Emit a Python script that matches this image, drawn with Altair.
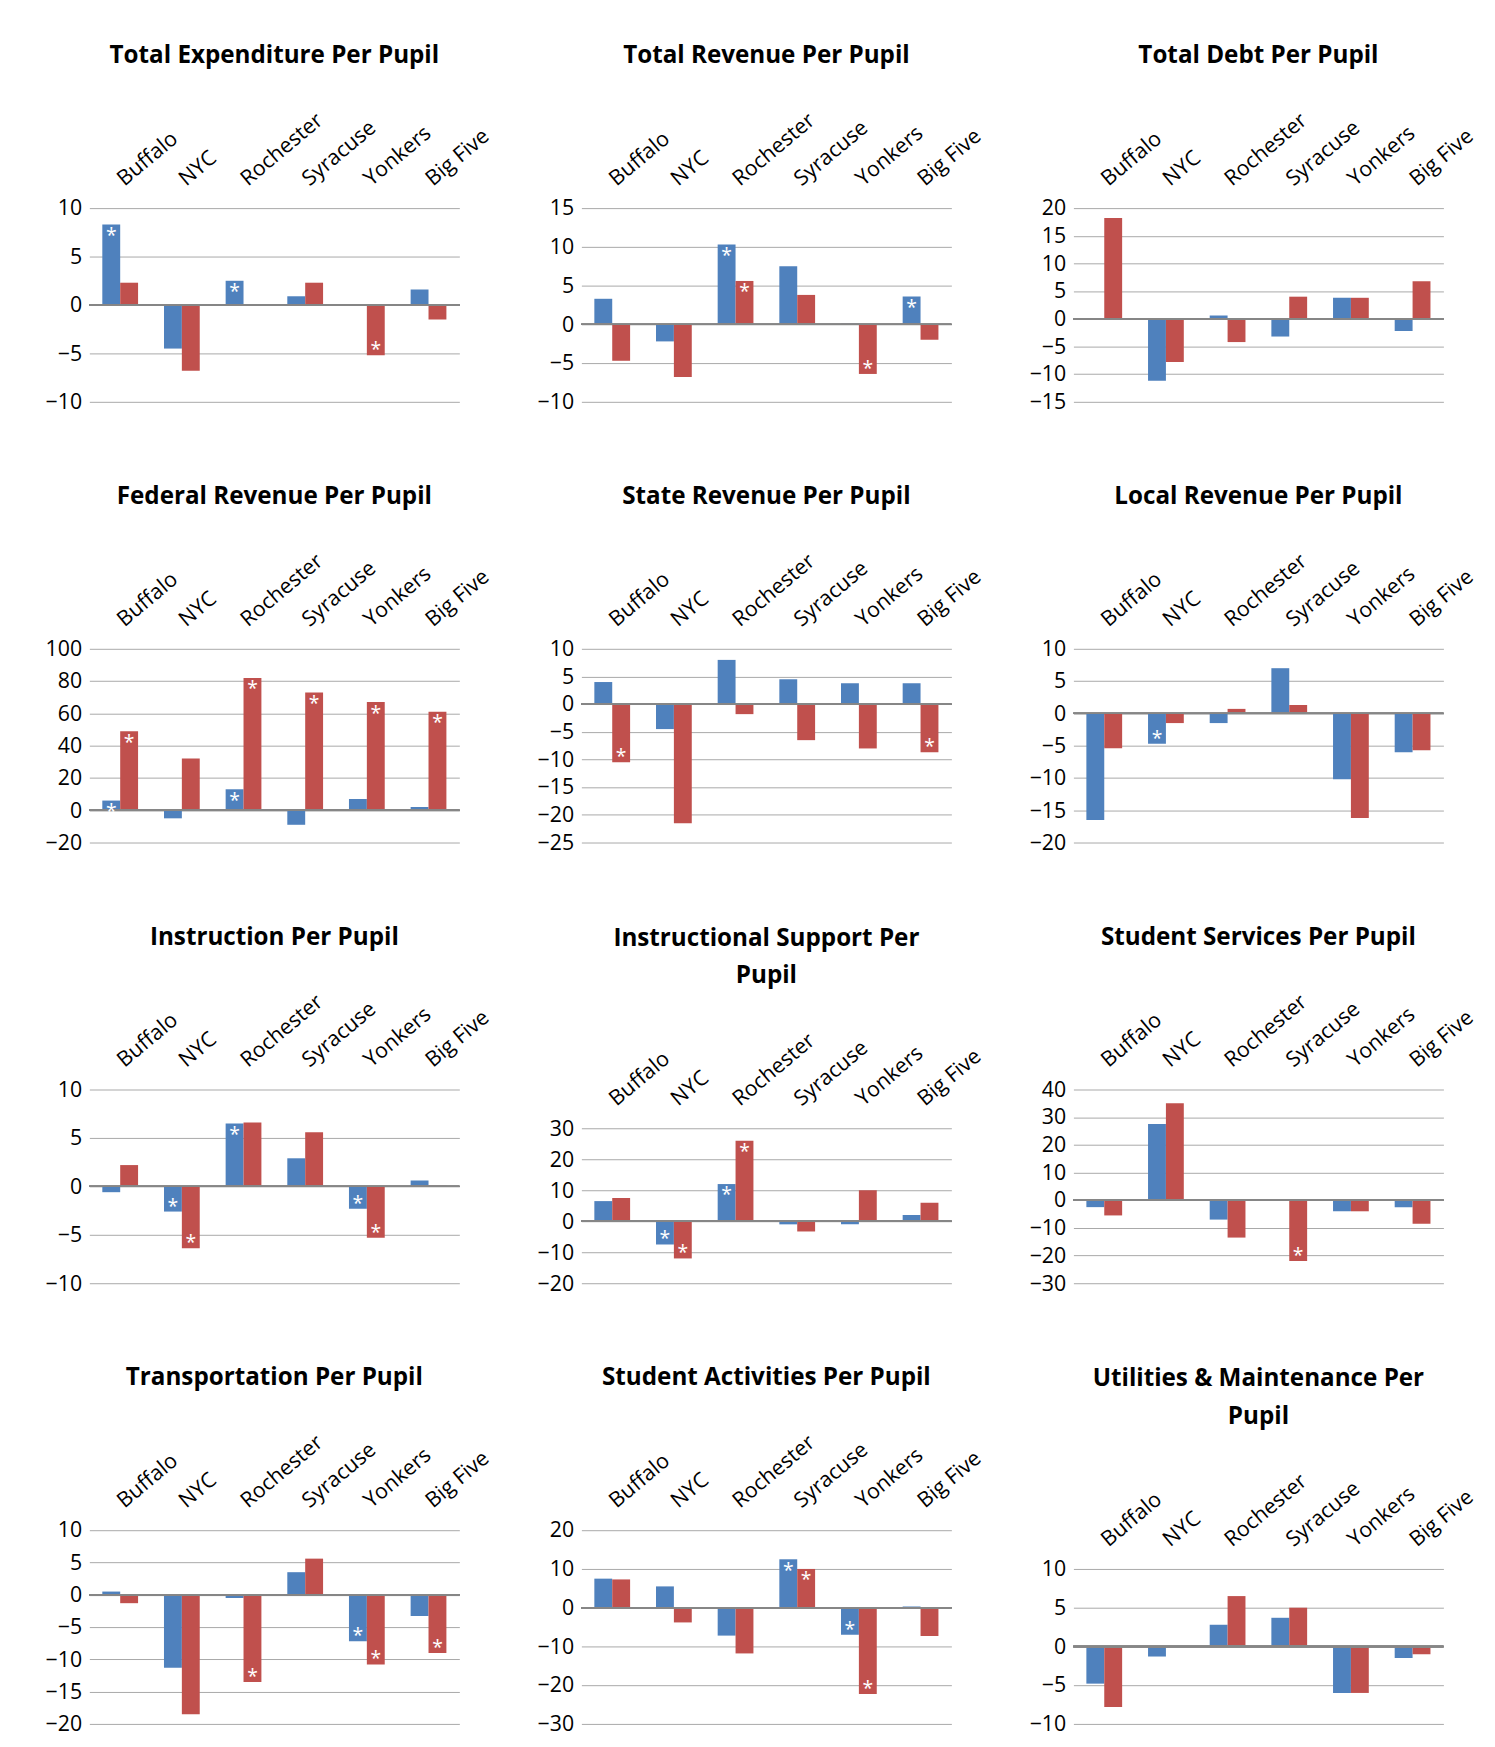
import altair as alt
import pandas as pd

cities = ["Buffalo", "NYC", "Rochester", "Syracuse", "Yonkers", "Big Five"]

titles = [
    ["Total Expenditure Per Pupil"], ["Total Revenue Per Pupil"], ["Total Debt Per Pupil"],
    ["Federal Revenue Per Pupil"], ["State Revenue Per Pupil"], ["Local Revenue Per Pupil"],
    ["Instruction Per Pupil"], ["Instructional Support Per", "Pupil"], ["Student Services Per Pupil"],
    ["Transportation Per Pupil"], ["Student Activities Per Pupil"], ["Utilities & Maintenance Per", "Pupil"],
]

blue = [
    [8.3, -4.5, 2.5, 0.9, -0.1, 1.6],
    [3.3, -2.2, 10.3, 7.5, 0.1, 3.6],
    [0.0, -11.2, 0.6, -3.2, 3.8, -2.2],
    [6, -5, 13, -9, 7, 2],
    [4, -4.5, 8, 4.5, 3.8, 3.8],
    [-16.5, -4.7, -1.5, 7, -10.2, -6],
    [-0.6, -2.6, 6.5, 2.9, -2.3, 0.6],
    [6.5, -7.5, 12, -1, -1, 2],
    [-2.5, 27.5, -7, 0, -4, -2.5],
    [0.5, -11.3, -0.5, 3.5, -7.2, -3.3],
    [7.5, 5.5, -7.2, 12.5, -7, 0.3],
    [-4.8, -1.3, 2.8, 3.7, -6, -1.5],
]
red = [
    [2.3, -6.8, -0.1, 2.3, -5.2, -1.5],
    [-4.7, -6.8, 5.6, 3.8, -6.4, -2.0],
    [18.2, -7.8, -4.2, 4.0, 3.8, 6.8],
    [49, 32, 82, 73, 67, 61],
    [-10.5, -21.5, -1.8, -6.5, -8, -8.7],
    [-5.4, -1.5, 0.7, 1.3, -16.2, -5.7],
    [2.2, -6.4, 6.6, 5.6, -5.3, 0.1],
    [7.5, -12, 26, -3.3, 10, 6],
    [-5.5, 35, -13.5, -22, -4, -8.5],
    [-1.3, -18.5, -13.5, 5.6, -10.8, -9],
    [7.3, -3.8, -11.8, 10, -22.3, -7.3],
    [-7.8, 0, 6.5, 5, -6, -1],
]
# significance flags (1 = asterisk)
blue_star = [
    [1, 0, 1, 0, 0, 0], [0, 0, 1, 0, 0, 1], [0, 0, 0, 0, 0, 0],
    [1, 0, 1, 0, 0, 0], [0, 0, 0, 0, 0, 0], [0, 1, 0, 0, 0, 0],
    [0, 1, 1, 0, 1, 0], [0, 1, 1, 0, 0, 0], [0, 0, 0, 0, 0, 0],
    [0, 0, 0, 0, 1, 0], [0, 0, 0, 1, 1, 0], [0, 0, 0, 0, 0, 0],
]
red_star = [
    [0, 0, 0, 0, 1, 0], [0, 0, 1, 0, 1, 0], [0, 0, 0, 0, 0, 0],
    [1, 0, 1, 1, 1, 1], [1, 0, 0, 0, 0, 1], [0, 0, 0, 0, 0, 0],
    [0, 1, 0, 0, 1, 0], [0, 1, 1, 0, 0, 0], [0, 0, 0, 1, 0, 0],
    [0, 0, 1, 0, 1, 1], [0, 0, 0, 1, 1, 0], [0, 0, 0, 0, 0, 0],
]
domains = [
    (-10, 10, 5), (-10, 15, 5), (-15, 20, 5),
    (-20, 100, 20), (-25, 10, 5), (-20, 10, 5),
    (-10, 10, 5), (-20, 30, 10), (-30, 40, 10),
    (-20, 10, 5), (-30, 20, 10), (-10, 10, 5),
]

FONT = "Open Sans"
W, H = 382, 200


def panel(i):
    rows = []
    for j, c in enumerate(cities):
        rows.append({"city": c, "s": "a", "v": blue[i][j], "star": blue_star[i][j]})
        rows.append({"city": c, "s": "b", "v": red[i][j], "star": red_star[i][j]})
    df = pd.DataFrame(rows)
    lo, hi, step = domains[i]
    two = len(titles[i]) > 1
    shift = 40 if two else 0
    yscale = alt.Scale(domain=[lo, hi], range=[H, shift], nice=False, zero=False)
    yaxis = alt.Axis(values=list(range(lo, hi + 1, step)), labelFontSize=22, labelFont=FONT,
                     labelColor="black", grid=True, gridColor="#a6a6a6", domain=False,
                     ticks=False, labelPadding=8, labelOverlap=False)
    x = alt.X("city:N", sort=cities, title=None,
              scale=alt.Scale(paddingInner=0.42, paddingOuter=0.21),
              axis=alt.Axis(orient="top", labelAngle=-40, labelAlign="left", labelBaseline="middle",
                            labelFontSize=22, labelFont=FONT, labelColor="black", ticks=False,
                            domain=False, labelPadding=28, offset=-shift, labelOverlap=False))
    y = alt.Y("v:Q", title=None, scale=yscale, axis=yaxis)
    xo = alt.XOffset("s:N", scale=alt.Scale(paddingInner=0))
    base = alt.Chart(df)
    bars = base.mark_bar().encode(
        x=x, y=y, y2=alt.datum(0), xOffset=xo,
        color=alt.Color("s:N", scale=alt.Scale(domain=["a", "b"], range=["#4F81BD", "#C0504D"]), legend=None),
    )
    zero = base.mark_rule(color="#868686", strokeWidth=1.5).encode(
        y=alt.Y(datum=0, scale=yscale, axis=yaxis))
    pos = base.transform_filter("datum.star == 1 && datum.v >= 0").mark_text(
        color="white", fontSize=20, baseline="top", dy=2, font=FONT).encode(
        x=x, xOffset=xo, y=y, text=alt.value("*"))
    neg = base.transform_filter("datum.star == 1 && datum.v < 0").mark_text(
        color="white", fontSize=20, baseline="bottom", dy=5, font=FONT).encode(
        x=x, xOffset=xo, y=y, text=alt.value("*"))
    return alt.layer(bars, zero, pos, neg).properties(
        width=W, height=H,
        title=alt.TitleParams(titles[i], fontSize=25, font=FONT, fontWeight="bold", color="black",
                              anchor="middle", offset=42, lineHeight=39),
    )


rws = [alt.hconcat(*[panel(r * 3 + c) for c in range(3)], spacing=45) for r in range(4)]
chart = alt.vconcat(*rws, spacing=74).configure_view(stroke=None).properties(
    padding={"left": 38, "top": 8, "right": 10, "bottom": 10}, background="white")

chart.save("out.html", embed_options={"renderer": "svg", "actions": False})
